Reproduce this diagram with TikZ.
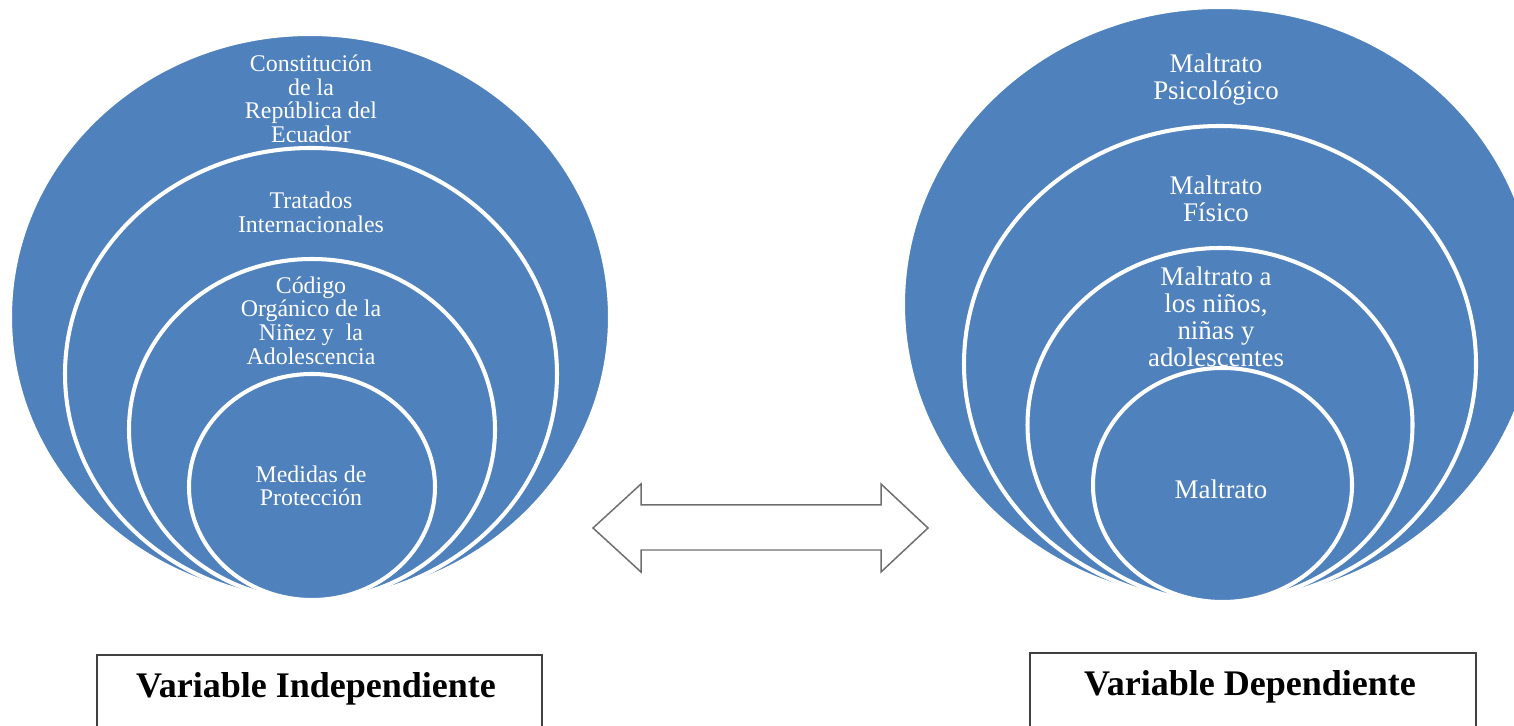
\documentclass[tikz,border=0pt]{standalone}
\usepackage{fontspec}
\setmainfont{Liberation Serif}
\definecolor{ringblue}{HTML}{4F81BD}
\definecolor{boxgray}{HTML}{404040}
\definecolor{arrowgray}{HTML}{6E6E6E}

\begin{document}
\begin{tikzpicture}[
    ring/.style={fill=ringblue, draw=white, line width=2.3pt},
    lefttxt/.style={text=white, align=center, inner sep=0pt, font=\fontsize{13.6}{13.4}\selectfont},
    righttxt/.style={text=white, align=center, inner sep=0pt, font=\fontsize{15.3}{15.3}\selectfont},
    vartxt/.style={inner sep=0pt, font=\fontsize{20.5}{24}\selectfont\bfseries}
]
            \useasboundingbox (0,0) rectangle (30.28,14.52);
            \clip (0,0) rectangle (30.28,14.52);

            \draw[ring] (6.2,8.18) ellipse (6.0cm and 5.66cm);
            \draw[ring] (6.22,7.04) ellipse (4.92cm and 4.52cm);
            \draw[ring] (6.24,5.93) ellipse (3.66cm and 3.41cm);
            \draw[ring] (6.24,4.78) ellipse (2.46cm and 2.26cm);

            \draw[ring] (24.4,8.43) ellipse (6.34cm and 5.95cm);
            \draw[ring] (24.4,7.24) ellipse (5.12cm and 4.76cm);
            \draw[ring] (24.4,6.02) ellipse (3.85cm and 3.54cm);
            \draw[ring] (24.45,4.82) ellipse (2.59cm and 2.34cm);

            \node[lefttxt] (const) at (6.22,12.54) {Constitución\\de la\\República del\\Ecuador};
            \node[lefttxt] (trat) at (6.22,10.27) {Tratados\\Internacionales};
            \node[lefttxt] (cod) at (6.22,8.11) {Código\\Orgánico de la\\Niñez y~ la\\Adolescencia};
            \node[lefttxt] (med) at (6.22,4.8) {Medidas de\\Protección};

            \node[righttxt] (psico) at (24.32,12.92) {Maltrato\\Psicológico};
            \node[righttxt] (fis) at (24.32,10.55) {Maltrato\\Físico};
            \node[righttxt] (ninos) at (24.32,8.19) {Maltrato a\\los niños,\\niñas y\\adolescentes};
            \node[righttxt] (malt) at (24.42,4.74) {Maltrato};

            \draw[arrowgray, line width=0.85pt] (11.86,3.96) -- (12.82,4.84) -- (12.82,4.42) -- (17.62,4.42)
                -- (17.62,4.84) -- (18.56,3.96) -- (17.62,3.08) -- (17.62,3.52) -- (12.82,3.52) -- (12.82,3.08) -- cycle;

            \draw[boxgray, line width=1.1pt] (1.94,-0.5) rectangle (10.84,1.42);
            \node[vartxt] (indep) at (6.32,0.74) {Variable Independiente};
            \draw[boxgray, line width=1.1pt] (20.6,-0.5) rectangle (29.52,1.46);
            \node[vartxt] (dep) at (25.0,0.78) {Variable Dependiente};

        \end{tikzpicture}
\end{document}
